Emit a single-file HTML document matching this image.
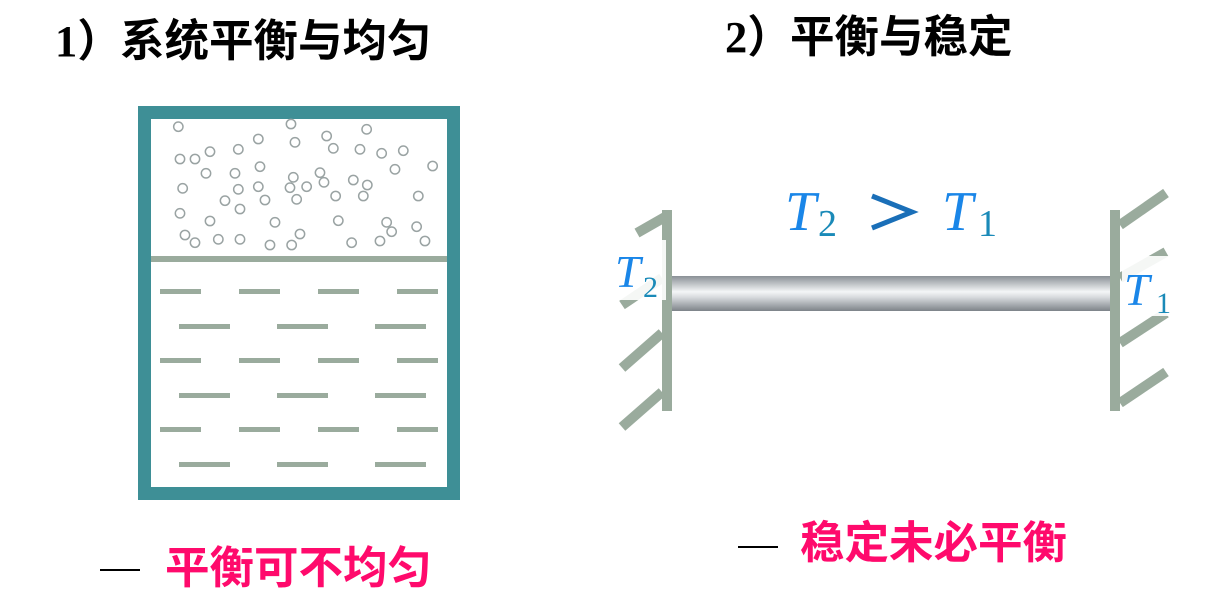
<!DOCTYPE html>
<html><head><meta charset="utf-8"><style>
html,body{margin:0;padding:0;background:#fff;width:1214px;height:599px;overflow:hidden}
</style></head><body>
<svg width="1214" height="599" xmlns="http://www.w3.org/2000/svg">
<defs>
<linearGradient id="rod" x1="0" y1="0" x2="0" y2="1">
<stop offset="0" stop-color="#8a9096"/><stop offset="0.45" stop-color="#f4f6f7"/><stop offset="0.6" stop-color="#d9dcdf"/><stop offset="1" stop-color="#7d8389"/>
</linearGradient>
</defs>
<g font-family="'Liberation Sans','Noto Sans CJK SC',sans-serif" font-weight="bold" font-size="44.5">
<text x="55" y="56" font-family="'Liberation Serif','Noto Sans CJK SC',serif">1）</text>
<text x="120" y="56">系统平衡与均匀</text>
<text x="725" y="52" font-family="'Liberation Serif','Noto Sans CJK SC',serif">2）</text>
<text x="790" y="52">平衡与稳定</text>
<text x="165" y="583" fill="#ff0a6c">平衡可不均匀</text>
<text x="800" y="558" fill="#ff0a6c">稳定未必平衡</text>
</g>
<rect x="100" y="569" width="40" height="2" fill="#000"/>
<rect x="738" y="546" width="40" height="2" fill="#000"/>
<rect x="144.5" y="112.5" width="309" height="381" fill="none" stroke="#3e8f96" stroke-width="13"/>
<rect x="151" y="256" width="296" height="6" fill="#9aab9d"/>
<g fill="#9aab9d">
<g id="r1"><rect x="160" y="289" width="41" height="5"/><rect x="239" y="289" width="41" height="5"/><rect x="318" y="289" width="41" height="5"/><rect x="397" y="289" width="41" height="5"/></g>
<g id="r2"><rect x="179" y="324" width="51" height="5"/><rect x="277" y="324" width="51" height="5"/><rect x="375" y="324" width="51" height="5"/></g>
<use href="#r1" y="69"/><use href="#r2" y="69"/><use href="#r1" y="138"/><use href="#r2" y="138"/>
</g>
<g transform="translate(130,100) scale(0.3333)" fill="none" stroke="#9aa3a3" stroke-width="4.5">
<circle cx="145" cy="80" r="14"/><circle cx="483" cy="72" r="14"/><circle cx="710" cy="88" r="14"/><circle cx="385" cy="117" r="14"/><circle cx="495" cy="127" r="14"/><circle cx="590" cy="108" r="14"/><circle cx="610" cy="145" r="14"/><circle cx="690" cy="148" r="14"/><circle cx="755" cy="160" r="14"/><circle cx="820" cy="152" r="14"/><circle cx="240" cy="155" r="14"/><circle cx="325" cy="148" r="14"/><circle cx="150" cy="177" r="14"/><circle cx="195" cy="177" r="14"/><circle cx="390" cy="200" r="14"/><circle cx="228" cy="220" r="14"/><circle cx="315" cy="220" r="14"/><circle cx="490" cy="232" r="14"/><circle cx="570" cy="218" r="14"/><circle cx="582" cy="247" r="14"/><circle cx="670" cy="240" r="14"/><circle cx="712" cy="255" r="14"/><circle cx="795" cy="208" r="14"/><circle cx="908" cy="198" r="14"/><circle cx="158" cy="265" r="14"/><circle cx="325" cy="268" r="14"/><circle cx="385" cy="260" r="14"/><circle cx="480" cy="263" r="14"/><circle cx="530" cy="260" r="14"/><circle cx="617" cy="288" r="14"/><circle cx="700" cy="288" r="14"/><circle cx="865" cy="288" r="14"/><circle cx="285" cy="302" r="14"/><circle cx="405" cy="300" r="14"/><circle cx="500" cy="298" r="14"/><circle cx="330" cy="327" r="14"/><circle cx="150" cy="340" r="14"/><circle cx="240" cy="363" r="14"/><circle cx="435" cy="367" r="14"/><circle cx="625" cy="362" r="14"/><circle cx="770" cy="367" r="14"/><circle cx="860" cy="380" r="14"/><circle cx="785" cy="395" r="14"/><circle cx="165" cy="405" r="14"/><circle cx="195" cy="428" r="14"/><circle cx="265" cy="418" r="14"/><circle cx="330" cy="418" r="14"/><circle cx="420" cy="435" r="14"/><circle cx="485" cy="435" r="14"/><circle cx="510" cy="402" r="14"/><circle cx="665" cy="428" r="14"/><circle cx="750" cy="423" r="14"/><circle cx="885" cy="423" r="14"/>
</g>
<g stroke="#9aab9d" stroke-width="10" fill="none">
<line x1="667" y1="210" x2="667" y2="411"/>
<line x1="1115" y1="210" x2="1115" y2="411"/>
<line x1="665" y1="217" x2="637" y2="233"/>
<line x1="662" y1="278" x2="622" y2="305"/>
<line x1="662" y1="333" x2="622" y2="368"/>
<line x1="662" y1="392" x2="622" y2="427"/>
<line x1="1120" y1="225" x2="1166" y2="193"/>
<line x1="1120" y1="278" x2="1166" y2="252"/>
<line x1="1120" y1="343" x2="1166" y2="313"/>
<line x1="1120" y1="403" x2="1166" y2="372"/>
</g>
<rect x="672" y="276" width="438" height="35" fill="url(#rod)"/>
<g font-family="'Liberation Serif','DejaVu Serif',serif" fill="#1a86e8">
<text x="785" y="230" font-size="56" font-style="italic">T</text>
<text x="818" y="236" font-size="38" fill="#1a8ab8">2</text>
<path d="M872 196 L912 212 L872 228" fill="none" stroke="#1a6fb8" stroke-width="5"/>
<text x="942" y="230" font-size="56" font-style="italic">T</text>
<text x="978" y="236" font-size="38" fill="#1a8ab8">1</text>
<rect x="614" y="240" width="52" height="60" fill="#fff" opacity="0.9"/>
<text x="615" y="287" font-size="46" font-style="italic">T</text>
<text x="643" y="297" font-size="30" fill="#1a8ab8">2</text>
<rect x="1122" y="256" width="58" height="60" fill="#fff" opacity="0.9"/>
<text x="1124" y="305" font-size="46" font-style="italic">T</text>
<text x="1156" y="313" font-size="30" fill="#1a8ab8">1</text>
</g>
</svg>
</body></html>
